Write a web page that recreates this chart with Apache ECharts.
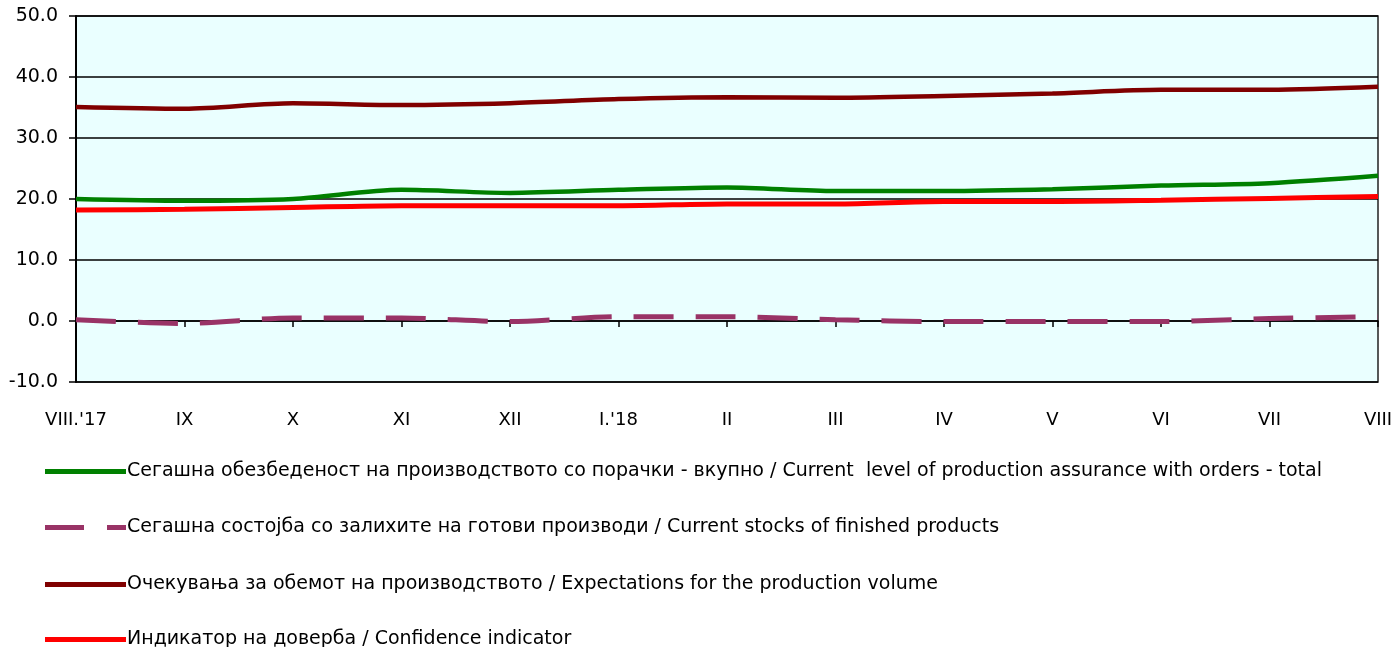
<!DOCTYPE html>
<html>
<head>
<meta charset="utf-8">
<script src="https://cdn.jsdelivr.net/npm/echarts@6/dist/echarts.min.js"></script>
<style>
html,body{margin:0;padding:0;background:#fff;}
#chart{width:1396px;height:647px;}
</style>
</head>
<body>
<div id="chart"></div>
<script>
const categories = ["VIII.'17","IX","X","XI","XII","I.'18","II","III","IV","V","VI","VII","VIII"];
const orders = [20.0,19.7,20.0,21.5,21.0,21.5,21.9,21.3,21.3,21.6,22.2,22.6,23.8];
const stocks = [0.2,-0.4,0.5,0.5,-0.1,0.7,0.7,0.2,-0.1,-0.1,-0.1,0.4,0.7];
const expectations = [35.1,34.8,35.7,35.4,35.7,36.4,36.7,36.6,36.9,37.3,37.9,37.9,38.4];
const confidence = [18.2,18.3,18.6,18.9,18.9,18.9,19.2,19.2,19.6,19.6,19.8,20.1,20.4];
const names = [
  "Сегашна обезбеденост на производството со порачки - вкупно / Current  level of production assurance with orders - total",
  "Сегашна состојба со залихите на готови производи / Current stocks of finished products",
  "Очекувања за обемот на производството / Expectations for the production volume",
  "Индикатор на доверба / Confidence indicator"
];
const colors = ['#008000','#993366','#800000','#FF0000'];
const FONT = "DejaVu Sans";
const chart = echarts.init(document.getElementById('chart'), null, {renderer:'canvas'});
const legendTops = [457, 513, 570, 625];
const icons = ['rect','path://M0,0H39V5H0Z M62,0H81V5H62Z','rect','rect'];
function mkLegend(i){
  return {
    show:true, orient:'vertical', left:40, top:legendTops[i],
    itemWidth:81, itemHeight:5, selectedMode:false,
    data:[{name:names[i], icon:icons[i], itemStyle:{color:colors[i]}}],
    textStyle:{fontFamily:FONT, fontSize:19, color:'#000', padding:[0,0,0,-4]}
  };
}
const option = {
  animation:false,
  backgroundColor:'#ffffff',
  grid:{left:76, right:18, top:16, bottom:265, show:true, backgroundColor:'#EAFFFF', borderColor:'#222', borderWidth:1.5},
  legend:[mkLegend(0),mkLegend(1),mkLegend(2),mkLegend(3)],
  xAxis:[
    {type:'category', data:categories, boundaryGap:false,
     axisLine:{show:true, onZero:true, lineStyle:{color:'#000', width:1.5}},
     axisTick:{show:true, length:6, lineStyle:{color:'#000', width:1.5}},
     axisLabel:{show:false}, splitLine:{show:false}},
    {type:'category', data:categories, boundaryGap:false, position:'bottom',
     axisLine:{show:false, onZero:false}, axisTick:{show:false},
     axisLabel:{show:true, margin:29, fontFamily:FONT, fontSize:18, color:'#000'},
     splitLine:{show:false}}
  ],
  yAxis:{type:'value', min:-10, max:50, interval:10,
    axisLine:{show:true, lineStyle:{color:'#000', width:2}},
    axisTick:{show:true, length:7, lineStyle:{color:'#000', width:1.5}},
    axisLabel:{margin:18, fontFamily:FONT, fontSize:19, color:'#000', formatter:v=>v.toFixed(1)},
    splitLine:{show:true, lineStyle:{color:'#000', width:1.5}}
  },
  series:[
    {name:names[0], type:'line', data:orders, smooth:0.3, symbol:'none', xAxisIndex:0,
     lineStyle:{color:colors[0], width:4.5}, itemStyle:{color:colors[0]}},
    {name:names[1], type:'line', data:stocks, smooth:0.3, symbol:'none', xAxisIndex:0,
     lineStyle:{color:colors[1], width:5, type:[40,22]}, itemStyle:{color:colors[1]}},
    {name:names[2], type:'line', data:expectations, smooth:0.3, symbol:'none', xAxisIndex:0,
     lineStyle:{color:colors[2], width:4.5}, itemStyle:{color:colors[2]}},
    {name:names[3], type:'line', data:confidence, smooth:0.3, symbol:'none', xAxisIndex:0,
     lineStyle:{color:colors[3], width:5}, itemStyle:{color:colors[3]}}
  ]
};
chart.setOption(option);
</script>
</body>
</html>
